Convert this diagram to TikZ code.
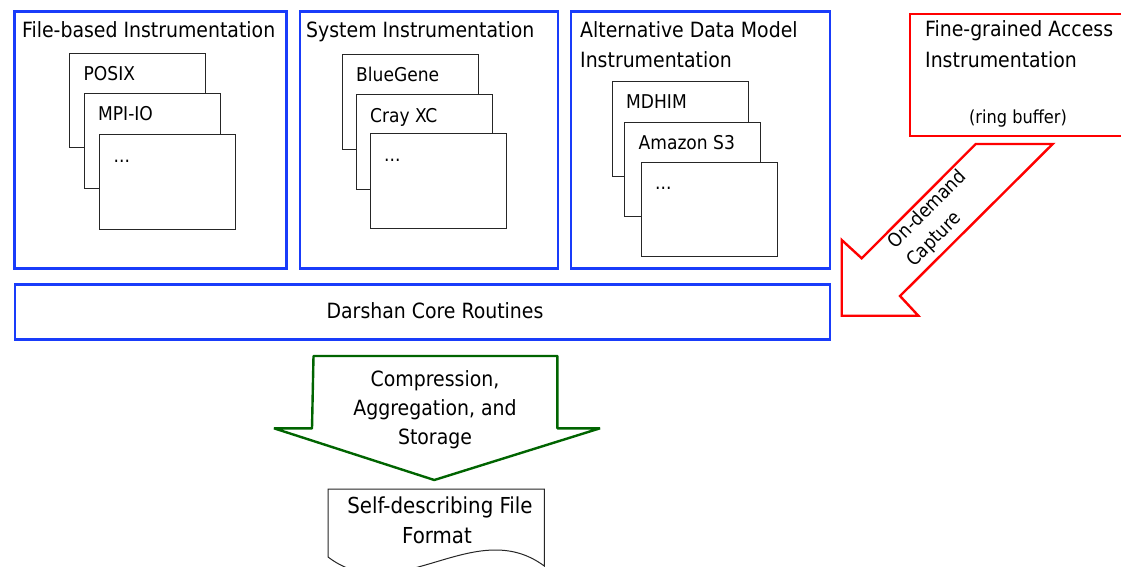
\documentclass[tikz,border=0pt]{standalone}
\usepackage{fontspec}
\setmainfont{DejaVu Sans Condensed}
\definecolor{grpblue}{RGB}{25,60,250}
\definecolor{capred}{RGB}{255,0,0}
\definecolor{flowgreen}{RGB}{0,100,0}
\newcommand{\ttlfont}{\fontsize{21}{30}\selectfont}
\newcommand{\cardfont}{\fontsize{19}{22}\selectfont}
\newcommand{\smallnote}{\fontsize{18}{20}\selectfont}
\tikzset{
  group/.style={draw=grpblue, line width=2.4pt, anchor=north west, inner sep=0pt, outer sep=0pt},
  card/.style={draw=black!85, line width=1pt, fill=white, anchor=north west,
               minimum width=136pt, minimum height=94pt, inner sep=0pt, outer sep=0pt},
  cardlabel/.style={anchor=base west, font=\cardfont, inner sep=0pt},
  ttl/.style={anchor=base west, font=\ttlfont, inner sep=0pt},
  ctext/.style={anchor=base, font=\ttlfont, inner sep=0pt},
}
\begin{document}
\begin{tikzpicture}[x=1pt,y=-1pt]
\useasboundingbox (0,0) rectangle (1121,567);
\clip (0,0) rectangle (1121,567);

% instrumentation groups
\node[group, minimum width=272pt, minimum height=257pt] (g1) at (14.5,11.5) {};
\node[group, minimum width=258pt, minimum height=257pt] (g2) at (300,11.5) {};
\node[group, minimum width=259pt, minimum height=257pt] (g3) at (571,11.5) {};
\node[group, minimum width=815pt, minimum height=55pt] (core) at (15,284.5) {};
\node[ctext] (coret) at (435,318) {Darshan Core Routines};

\node[ttl] (g1t) at (22,38) {File-based Instrumentation};
\node[ttl] (g2t) at (306,38) {System Instrumentation};
\node[ttl] (g3t) at (580,38) {Alternative Data Model};
\node[ttl] (g3u) at (580,68) {Instrumentation};

% stacked module cards
\node[card] (posix) at (69.5,53.5) {};
\node[card] (mpiio) at (84,94) {};
\node[card] (more1) at (99.5,135) {};
\node[cardlabel] at ([shift={(14,27)}]posix.north west) (posixt) {POSIX};
\node[cardlabel] at ([shift={(14,27)}]mpiio.north west) (mpiiot) {MPI-IO};
\node[cardlabel] at ([shift={(14,27)}]more1.north west) (more1t) {...};

\node[card] (bgq) at (342,55) {};
\node[card] (cray) at (356,95) {};
\node[card] (more2) at (370,134) {};
\node[cardlabel] at ([shift={(14,27)}]bgq.north west) (bgqt) {BlueGene};
\node[cardlabel] at ([shift={(14,27)}]cray.north west) (crayt) {Cray XC};
\node[cardlabel] at ([shift={(14,27)}]more2.north west) (more2t) {...};

\node[card] (mdhim) at (612,82) {};
\node[card] (s3) at (624.5,122.5) {};
\node[card] (more3) at (641,162) {};
\node[cardlabel] at ([shift={(14,27)}]mdhim.north west) (mdhimt) {MDHIM};
\node[cardlabel] at ([shift={(14,27)}]s3.north west) (s3t) {Amazon S3};
\node[cardlabel] at ([shift={(14,27)}]more3.north west) (more3t) {...};

% fine-grained access module
\node[draw=capred, line width=2.4pt, anchor=north west, inner sep=0pt,
      minimum width=230pt, minimum height=122pt] (fine) at (909,13) {};
\node[ttl] (finet) at (925,37) {Fine-grained Access};
\node[ttl] (fineu) at (925,68) {Instrumentation};
\node[anchor=base, font=\smallnote, inner sep=0pt] (ring) at (1018,124) {(ring buffer)};

% on-demand capture arrow
\draw[capred, line width=2.4pt, line join=miter]
  (975.7,144) -- (1052.7,144) -- (900,296) -- (918.3,315.7) -- (841.7,315.7)
  -- (841.7,240) -- (861.7,258.3) -- cycle;
\node[rotate=45, align=left, font=\fontsize{19}{26}\selectfont, inner sep=0pt] (cap)
  at (937,219) {On-demand\\Capture};

% compression / aggregation / storage arrow
\draw[flowgreen, line width=2.4pt, line join=bevel]
  (313.5,356) -- (557.3,356) -- (557.3,428.3) -- (600,428.3) -- (434.3,480)
  -- (274,428.3) -- (312,428.3) -- cycle;
\node[ctext] (ca1) at (435,386) {Compression,};
\node[ctext] (ca2) at (435,415) {Aggregation, and};
\node[ctext] (ca3) at (435,444) {Storage};

% output document
\draw[black!85, line width=1pt, fill=white]
  (328,489) -- (544.3,489) -- (544.3,566)
  .. controls (474,514) and (398,610) .. (328,557) -- cycle;
\node[anchor=base, font=\fontsize{22}{30}\selectfont, inner sep=0pt] (doc1) at (440,513) {Self-describing File};
\node[anchor=base, font=\fontsize{22}{30}\selectfont, inner sep=0pt] (doc2) at (437,543) {Format};
\end{tikzpicture}
\end{document}
